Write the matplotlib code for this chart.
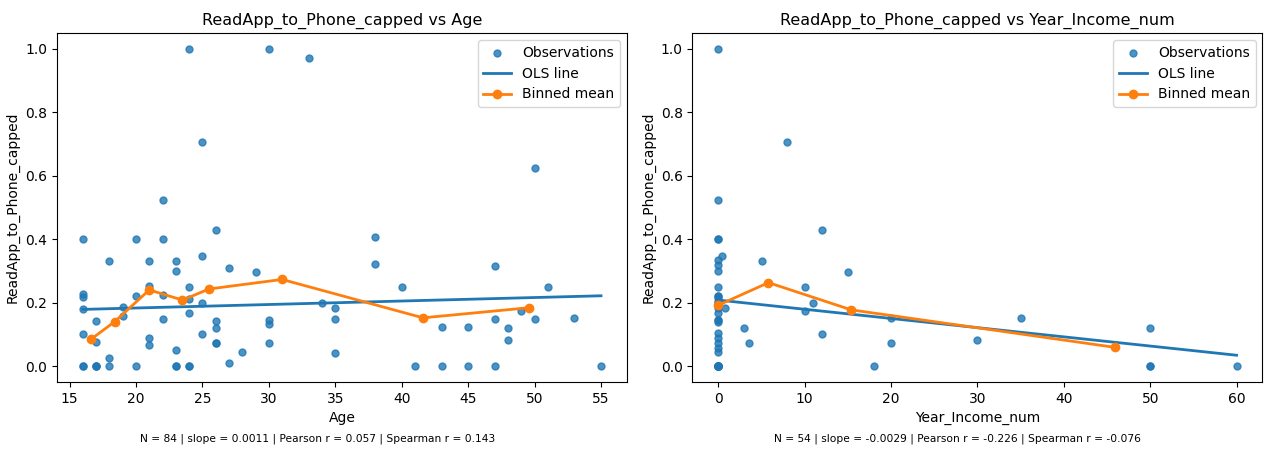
import numpy as np
import matplotlib
matplotlib.use("Agg")
import matplotlib.pyplot as plt

# observations
age_x = [16, 16, 16, 16, 16, 16, 16,
         17, 17, 17, 17, 17,
         18, 18, 18,
         19, 19,
         20, 20, 20,
         21, 21, 21, 21,
         22, 22, 22, 22,
         23, 23, 23, 23, 23,
         24, 24, 24, 24, 24, 24,
         25, 25, 25, 25,
         26, 26, 26, 26, 26,
         27, 27, 28, 29,
         30, 30, 30, 30,
         33, 34, 35, 35, 35,
         38, 38, 40, 41,
         43, 43, 45, 45,
         47, 47, 47, 48, 48, 49,
         50, 50, 51, 53, 55]
age_y = [0.40, 0.227, 0.219, 0.179, 0.10, 0.0, 0.0,
         0.142, 0.077, 0.0, 0.0, 0.0,
         0.332, 0.024, 0.0,
         0.185, 0.158,
         0.40, 0.222, 0.0,
         0.332, 0.253, 0.087, 0.066,
         0.524, 0.40, 0.224, 0.148,
         0.332, 0.30, 0.05, 0.0, 0.0,
         1.0, 0.25, 0.211, 0.166, 0.0, 0.0,
         0.705, 0.347, 0.20, 0.10,
         0.429, 0.143, 0.121, 0.072, 0.072,
         0.308, 0.01, 0.045, 0.297,
         1.0, 0.145, 0.131, 0.072,
         0.972, 0.20, 0.182, 0.148, 0.042,
         0.408, 0.322, 0.25, 0.0,
         0.124, 0.0, 0.124, 0.0,
         0.316, 0.148, 0.0, 0.119, 0.082, 0.173,
         0.625, 0.148, 0.25, 0.153, 0.0]

inc_x = [0] * 31 + [0.4, 0.8, 3, 3.6, 5, 8, 10, 10, 11, 12, 12, 15, 18,
                    20, 20, 30, 35, 50, 50, 50, 60]
inc_y = [1.0, 0.524, 0.40, 0.40, 0.334, 0.319, 0.30, 0.25, 0.222, 0.222,
         0.215, 0.203, 0.182, 0.166, 0.145, 0.14, 0.103, 0.088, 0.073,
         0.057, 0.045, 0.0, 0.0, 0.0, 0.0, 0.0, 0.0, 0.0, 0.0, 0.203, 0.145] + \
        [0.348, 0.182, 0.121, 0.072, 0.332, 0.706, 0.25, 0.173, 0.20, 0.429,
         0.10, 0.298, 0.0, 0.15, 0.072, 0.082, 0.153, 0.119, 0.0, 0.0, 0.0]

# binned means
age_bin_x = [16.6, 18.4, 21.0, 23.5, 25.5, 31.0, 41.6, 49.6]
age_bin_y = [0.084, 0.14, 0.24, 0.208, 0.243, 0.273, 0.152, 0.184]
inc_bin_x = [0.0, 5.8, 15.4, 45.9]
inc_bin_y = [0.192, 0.263, 0.177, 0.059]

# OLS fits
age_slope, age_icpt = 0.0011, 0.161
inc_slope, inc_icpt = -0.0029, 0.208

notes = ["N = 84 | slope = 0.0011 | Pearson r = 0.057 | Spearman r = 0.143",
         "N = 54 | slope = -0.0029 | Pearson r = -0.226 | Spearman r = -0.076"]

fig, (ax1, ax2) = plt.subplots(1, 2, figsize=(12.65, 4.53), dpi=100)
plt.subplots_adjust(left=0.045, right=0.998, top=0.927, bottom=0.157, wspace=0.115)

panels = [
    (ax1, age_x, age_y, age_bin_x, age_bin_y, age_slope, age_icpt, "Age"),
    (ax2, inc_x, inc_y, inc_bin_x, inc_bin_y, inc_slope, inc_icpt, "Year_Income_num"),
]

for ax, x, y, bx, by, slope, icpt, name in panels:
    ax.scatter(x, y, s=25, alpha=0.8, color="tab:blue", label="Observations", zorder=2)
    xs = np.array([min(x), max(x)])
    ax.plot(xs, icpt + slope * xs, color="tab:blue", lw=2, label="OLS line", zorder=3)
    ax.plot(bx, by, "-o", color="tab:orange", lw=2, ms=6, label="Binned mean", zorder=4)
    ax.set_title(f"ReadApp_to_Phone_capped vs {name}", fontsize=11.5)
    ax.set_xlabel(name, fontsize=10)
    ax.set_ylabel("ReadApp_to_Phone_capped", fontsize=10)
    ax.tick_params(labelsize=10)
    ax.legend(loc="upper right", fontsize=10)

fig.text(0.251, 0.025, notes[0], ha="center", fontsize=7.7)
fig.text(0.757, 0.025, notes[1], ha="center", fontsize=7.7)

fig.savefig("out.png", dpi=100)
